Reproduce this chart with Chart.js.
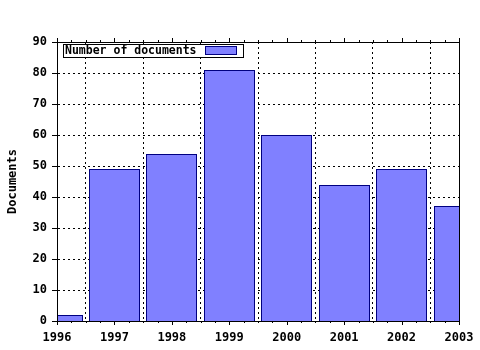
<!DOCTYPE html>
<html>
<head>
<meta charset="utf-8">
<script src="https://cdn.jsdelivr.net/npm/chart.js@4/dist/chart.umd.min.js"></script>
<style>
  html, body { margin: 0; padding: 0; background: #fff; }
  #wrap { width: 480px; height: 350px; }
</style>
</head>
<body>
<div id="wrap"><canvas id="chartjs-0" width="480" height="350"></canvas></div>
<script>
// values
var years = [1996, 1997, 1998, 1999, 2000, 2001, 2002, 2003];
var docs = [2, 49, 54, 81, 60, 44, 49, 37];
var seriesName = "Number of documents";

var points = [];
for (var i = 0; i < years.length; i++) {
  points.push({ x: years[i], y: docs[i] });
}

var monoFont = "'DejaVu Sans Mono', monospace";

/* snap bars to whole pixels so the 1px outline stays crisp */
var snapPlugin = {
  id: "snap",
  beforeDatasetsDraw: function (chart) {
    var bars = chart.getDatasetMeta(0).data;
    for (var i = 0; i < bars.length; i++) {
      var b = bars[i];
      var w = Math.round(b.width);
      if (w % 2 === 0) w -= 1;
      b.width = w;
      b.x = Math.floor(b.x) + 0.5;
      b.y = Math.round(b.y);
      b.base = Math.round(b.base) + 1;
    }
  }
};

/* frame, outward ticks and the legend box */
var framePlugin = {
  id: "frame",
  afterDraw: function (chart) {
    var c = chart.ctx;
    var a = chart.chartArea;
    var xs = chart.scales.x;
    var ys = chart.scales.y;
    c.save();
    c.strokeStyle = "#000";
    c.lineWidth = 1;
    c.setLineDash([]);
    c.strokeRect(Math.round(a.left) + 0.5, Math.round(a.top) + 0.5,
      Math.round(a.right - a.left), Math.round(a.bottom - a.top));
    c.beginPath();
    for (var v = years[0]; v <= years[years.length - 1] + 0.001; v += 0.25) {
      var px = Math.round(xs.getPixelForValue(v)) + 0.5;
      var major = Math.abs(v - Math.round(v)) < 0.01;
      var len = major ? 4 : 2;
      c.moveTo(px, Math.round(a.top));
      c.lineTo(px, Math.round(a.top) - len);
      c.moveTo(px, Math.round(a.bottom));
      c.lineTo(px, Math.round(a.bottom) + len);
    }
    for (var t = 0; t <= 90; t += 10) {
      var py = Math.round(ys.getPixelForValue(t)) + 0.5;
      c.moveTo(Math.round(a.left) - 5, py);
      c.lineTo(Math.round(a.left) + 3, py);
    }
    c.stroke();

    // legend
    c.fillStyle = "#fff";
    c.fillRect(63.5, 44.5, 180, 13);
    c.strokeRect(63.5, 44.5, 180, 13);
    c.fillStyle = "#000";
    c.font = "bold 11.5px " + monoFont;
    c.textBaseline = "middle";
    c.fillText(seriesName, 65, 51.5);
    c.fillStyle = "#8080ff";
    c.fillRect(205.5, 46.5, 31, 8);
    c.strokeStyle = "#000080";
    c.strokeRect(205.5, 46.5, 31, 8);
    c.restore();
  }
};

var ctx = document.getElementById("chartjs-0");

var myChart = new Chart(ctx, {
  type: "bar",
  data: {
    datasets: [
      {
        label: seriesName,
        data: points,
        backgroundColor: "#8080ff",
        borderColor: "#000080",
        borderWidth: 1,
        borderSkipped: false,
        inflateAmount: 0,
        barPercentage: 0.9,
        categoryPercentage: 1,
        clip: 0,
      },
    ],
  },
  options: {
    responsive: false,
    animation: false,
    devicePixelRatio: 1,
    layout: { padding: { left: 0, right: 21, top: 42, bottom: 0 } },
    plugins: {
      legend: { display: false },
      tooltip: { enabled: false },
    },
    scales: {
      x: {
        type: "linear",
        min: 1996,
        max: 2003,
        offset: false,
        grid: { color: "#000", lineWidth: 1, drawTicks: false },
        border: { display: true, color: "#000", dash: [2, 3] },
        ticks: {
          stepSize: 1,
          padding: 10,
          color: "#000",
          maxRotation: 0,
          font: { family: monoFont, size: 12, weight: "bold" },
          callback: function (v) { return String(v); },
        },
        afterFit: function (s) { s.height = 29; s.paddingRight = 0; s.paddingLeft = 0; },
      },
      y: {
        min: 0,
        max: 90,
        grid: { color: "#000", lineWidth: 1, drawTicks: false },
        border: { display: true, color: "#000", dash: [2, 3] },
        ticks: {
          stepSize: 10,
          padding: 10,
          color: "#000",
          font: { family: monoFont, size: 12, weight: "bold" },
        },
        title: {
          display: true,
          text: "Documents",
          color: "#000",
          padding: { top: 6, bottom: 0 },
          font: { family: monoFont, size: 12, weight: "bold" },
        },
        afterFit: function (s) { s.width = 57; s.paddingTop = 0; s.paddingBottom = 0; },
      },
    },
  },
  plugins: [snapPlugin, framePlugin],
});
</script>
</body>
</html>
